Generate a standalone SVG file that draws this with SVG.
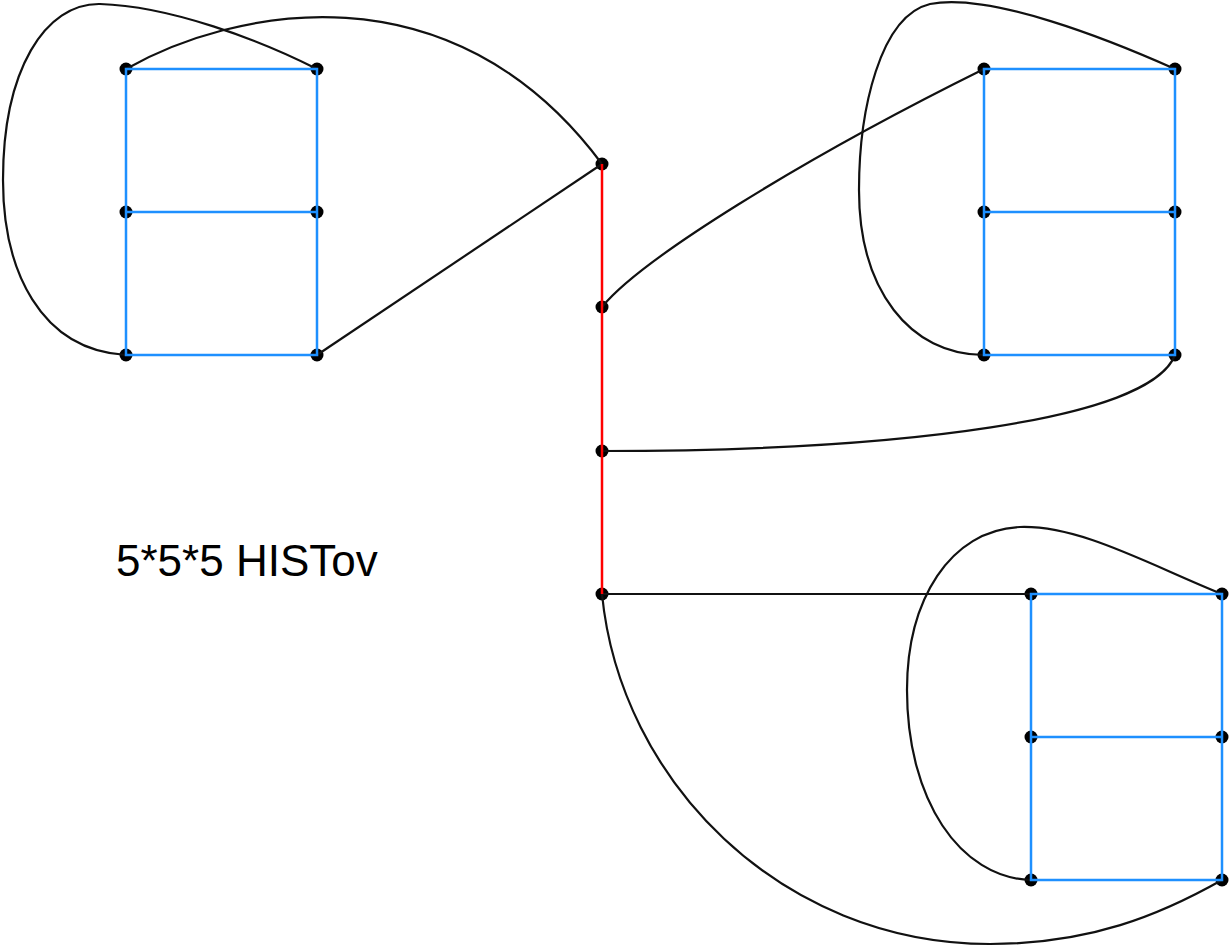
<svg xmlns="http://www.w3.org/2000/svg" width="1229" height="949" viewBox="0 0 1229 949">
<style>
.n{fill:#000}
.c{fill:none;stroke:#111;stroke-width:2.2}
.b{fill:none;stroke:#1e90ff;stroke-width:2.5}
.r{fill:none;stroke:#ff0000;stroke-width:2.5}
.t{font-family:"Liberation Sans",Arial,sans-serif;font-size:44px;fill:#000}
</style>
<rect width="1229" height="949" fill="#fff"/>
<g id="nodes">
<g id="n-tl"><circle class="n" cx="126" cy="69" r="6.5"/><circle class="n" cx="317" cy="69" r="6.5"/><circle class="n" cx="126" cy="212" r="6.5"/><circle class="n" cx="317" cy="212" r="6.5"/><circle class="n" cx="126" cy="355" r="6.5"/><circle class="n" cx="317" cy="355" r="6.5"/></g>
<g id="n-spine"><circle class="n" cx="602" cy="164" r="6.5"/><circle class="n" cx="602" cy="307" r="6.5"/><circle class="n" cx="602" cy="451" r="6.5"/><circle class="n" cx="602" cy="594" r="6.5"/></g>
<g id="n-tr"><circle class="n" cx="984" cy="69" r="6.5"/><circle class="n" cx="1175" cy="69" r="6.5"/><circle class="n" cx="984" cy="212" r="6.5"/><circle class="n" cx="1175" cy="212" r="6.5"/><circle class="n" cx="984" cy="355" r="6.5"/><circle class="n" cx="1175" cy="355" r="6.5"/></g>
<g id="n-br"><circle class="n" cx="1031" cy="594" r="6.5"/><circle class="n" cx="1222" cy="594" r="6.5"/><circle class="n" cx="1031" cy="737" r="6.5"/><circle class="n" cx="1222" cy="737" r="6.5"/><circle class="n" cx="1031" cy="880" r="6.5"/><circle class="n" cx="1222" cy="880" r="6.5"/></g>
</g>
<g id="connectors">
<path class="c" d="M126,355 C40,350 3,270 3,180 C3,70 45,3 100,4 C170,6 260,40 317,69"/>
<path class="c" d="M126,69 C230,10 450,-40 602,164"/>
<path class="c" d="M317,355 L602,164"/>
<path class="c" d="M602,307 C640,260 800,160 984,69"/>
<path class="c" d="M1175,69 C1110,40 990,-8 930,4 C880,16 859,110 859,190 C859,290 910,355 984,355"/>
<path class="c" d="M1175,355 C1150,420 900,451 602,451"/>
<path class="c" d="M602,594 L1031,594"/>
<path class="c" d="M1222,594 C1150,565 1080,525 1020,527 C950,530 907,600 907,690 C907,800 960,878 1031,880"/>
<path class="c" d="M602,594 C620,780 780,944 990,944 C1090,944 1160,915 1222,880"/>
<path class="r" d="M602,164 L602,594"/>
<path class="b" d="M126,69 H317 V355 H126 Z M126,212 H317"/>
<path class="b" d="M984,69 H1175 V355 H984 Z M984,212 H1175"/>
<path class="b" d="M1031,594 H1222 V880 H1031 Z M1031,737 H1222"/>
</g>
<text class="t" x="116" y="576">5*5*5 HISTov</text>
</svg>
